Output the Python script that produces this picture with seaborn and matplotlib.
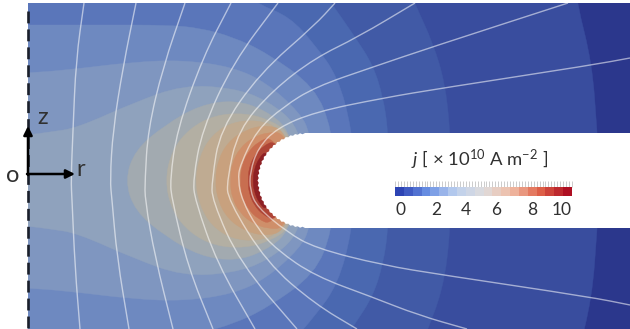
import numpy as np
import matplotlib
matplotlib.use("Agg")
import matplotlib.pyplot as plt
import seaborn as sns
from matplotlib.path import Path
from matplotlib.patches import PathPatch, Rectangle

# picture axis of symmetry of the field (z = 0)
z_mid = 180.5

# band edges of j, top half only, outermost first
edge_1 = [(-100, -60), (0, -60), (570, -60), (575, -20), (577, 3), (592, 63), (597, 130), (600, z_mid)]
edge_2 = [(-100, -60), (0, -60), (400, -60), (408, -15), (415, 4), (433, 43), (445, 83), (450, 130), (452, z_mid)]
edge_3 = [(-100, -60), (0, -60), (310, -60), (320, -12), (332, 4), (355, 37), (373, 65), (383, 97), (388, 130), (390, z_mid)]
edge_4 = [(-100, -60), (0, -60), (215, -60), (235, -12), (258, 4), (290, 17), (315, 45), (338, 77), (352, 130), (355, z_mid)]
edge_5 = [(-60, 25), (-20, 25), (100, 25), (167, 25), (200, 28), (233, 37), (267, 53), (315, 87), (332, 130), (335, z_mid)]
edge_6 = [(-60, 76), (-20, 75), (28, 73), (67, 70), (133, 62), (183, 60), (233, 67), (267, 83), (300, 113), (310, 133), (315, z_mid)]
edge_7 = [(-60, 140), (-20, 139), (28, 135), (50, 132), (77, 128), (133, 103), (183, 85), (233, 88), (267, 100), (300, 127), (305, z_mid)]
edge_8 = [(125, z_mid), (135, 150), (165, 125), (200, 105), (235, 100), (265, 110), (290, 130), (300, z_mid)]
edge_9 = [(165, z_mid), (172, 150), (190, 128), (215, 115), (245, 113), (270, 120), (290, 133), (300, z_mid)]
edge_10 = [(195, z_mid), (200, 155), (212, 135), (232, 122), (258, 120), (280, 128), (300, z_mid)]
edge_11 = [(215, z_mid), (218, 160), (228, 142), (245, 130), (265, 125), (285, 130), (300, z_mid)]
edge_12 = [(230, z_mid), (232, 163), (240, 148), (252, 138), (268, 132), (285, 133), (300, z_mid)]
edge_13 = [(240, z_mid), (242, 165), (248, 152), (258, 142), (272, 136), (300, z_mid)]
edge_14 = [(248, z_mid), (249, 168), (254, 156), (263, 146), (276, 140), (300, z_mid)]
edge_15 = [(253, z_mid), (254, 170), (259, 158), (267, 150), (300, z_mid)]
band_edges = [edge_1, edge_2, edge_3, edge_4, edge_5, edge_6, edge_7, edge_8,
              edge_9, edge_10, edge_11, edge_12, edge_13, edge_14, edge_15]

outer_color = "#2b378c"
band_colors = ["#394d9e", "#415aa6", "#4a68b0", "#5a76ba", "#6e89c0", "#7f96c0", "#8fa2bd",
               "#a2aab0", "#b3afa3", "#bfab92", "#c8a17e", "#cf8f6a", "#c86e50", "#ae4436", "#8e2024"]

# current streamlines
line_1 = [(84, 3), (76, 60), (73, 130), (71, 180), (72, 200), (75, 267), (80, 329)]
line_2 = [(136, 3), (123, 67), (113, 130), (110, 180), (112, 200), (117, 257), (129, 329)]
line_3 = [(185, 3), (163, 67), (148, 130), (145, 180), (145, 200), (155, 257), (173, 329)]
line_4 = [(231, 3), (203, 57), (177, 130), (170, 180), (172, 200), (188, 267), (213, 329)]
line_5 = [(278, 3), (233, 63), (202, 130), (193, 180), (195, 200), (217, 263), (255, 329)]
line_6 = [(335, 3), (315, 25), (260, 73), (220, 130), (212, 180), (212, 200), (240, 263), (297, 329)]
line_7 = [(415, 3), (358, 37), (315, 58), (273, 90), (238, 130), (227, 180), (228, 200), (267, 263), (315, 304), (357, 329)]
line_8 = [(568, 3), (432, 47), (373, 67), (315, 87), (283, 107), (257, 130), (240, 165), (238, 180), (242, 200), (257, 228), (277, 250), (315, 276), (372, 297), (418, 315), (467, 329)]
line_9 = [(630, 58), (592, 65), (443, 88), (383, 98), (315, 112), (277, 128), (258, 148), (250, 172), (250, 190), (257, 207), (287, 232), (315, 248), (382, 265), (443, 275), (590, 297), (630, 305)]
stream_lines = [line_1, line_2, line_3, line_4, line_5, line_6, line_7, line_8, line_9]

# colorbar
cbar_colors = ["#2d44b4", "#6a90e4", "#bccfee", "#dedcdc", "#f0bca6", "#e0644a", "#ae0f22"]
cbar_cells = 20
cbar_labels = ["0", "2", "4", "6", "8", "10"]
cbar_label_px = [400, 436, 466, 496, 532, 562]


def smooth_path(points, closed=False):
    # quadratic curves through segment midpoints
    pts = np.array(points, dtype=float)
    mids = (pts + np.roll(pts, -1, axis=0)) / 2
    verts, codes = [], []
    if closed:
        verts.append(mids[-1])
        codes.append(Path.MOVETO)
        for p, m in zip(pts, mids):
            verts += [p, m]
            codes += [Path.CURVE3, Path.CURVE3]
    else:
        verts += [pts[0], mids[0]]
        codes += [Path.MOVETO, Path.LINETO]
        for p, m in zip(pts[1:-1], mids[1:-1]):
            verts += [p, m]
            codes += [Path.CURVE3, Path.CURVE3]
        verts.append(pts[-1])
        codes.append(Path.LINETO)
    return Path(verts, codes)


sns.set_style("white")
plt.rcParams["font.family"] = ["Lato", "DejaVu Sans"]
plt.rcParams["mathtext.fontset"] = "custom"
plt.rcParams["mathtext.rm"] = "Lato"
plt.rcParams["mathtext.it"] = "Lato:italic"
text_color = "#303030"

fig = plt.figure(figsize=(6.30, 3.29), dpi=100)
ax = fig.add_axes([0, 0, 1, 1])
ax.set_xlim(0, 630)
ax.set_ylim(329, 0)
ax.set_axis_off()

# field region
frame = Rectangle((28, 3), 602, 326, facecolor=outer_color, edgecolor="none", zorder=1)
ax.add_patch(frame)

for edge, color in zip(band_edges, band_colors):
    bottom = [(x, 2 * z_mid - y) for x, y in edge[-2::-1] if y != z_mid]
    patch = PathPatch(smooth_path(edge + bottom, closed=True), facecolor=color, edgecolor=color, lw=0.3, zorder=2)
    ax.add_patch(patch)
    patch.set_clip_path(frame)

for line in stream_lines:
    patch = PathPatch(smooth_path(line), facecolor="none", edgecolor="white", lw=1.0, alpha=0.55, zorder=3)
    ax.add_patch(patch)
    patch.set_clip_path(frame)

# electrode slot with stepped mesh edge
tip_x, tip_r = 305, 47.5
angles = np.radians(np.arange(90, 270.1, 3))
radii = tip_r - 1.2 * (np.arange(len(angles)) % 2)
slot_x = tip_x + radii * np.cos(angles)
slot_y = z_mid - radii * np.sin(angles)
ax.fill(np.r_[slot_x, 640, 640], np.r_[slot_y, z_mid + tip_r, z_mid - tip_r], color="white", lw=0, zorder=4)

# axis of symmetry and r, z arrows
ax.plot([28, 28], [11, 329], color="#1a1f2b", lw=1.9, dashes=(4.5, 2.3), zorder=5)
ax.annotate("", xy=(28, 126), xytext=(28, 175), zorder=6,
            arrowprops=dict(arrowstyle="-|>", color="black", lw=1.8, mutation_scale=13, shrinkA=0, shrinkB=0))
ax.annotate("", xy=(75, 174), xytext=(27, 174), zorder=6,
            arrowprops=dict(arrowstyle="-|>", color="black", lw=1.8, mutation_scale=13, shrinkA=0, shrinkB=0))
ax.text(43, 118, "z", fontsize=17, color=text_color, ha="center", va="center")
ax.text(81, 170, "r", fontsize=17, color=text_color, ha="center", va="center")
ax.text(13, 176, "o", fontsize=17, color=text_color, ha="center", va="center")

ax.text(480, 160, r"$\mathit{j}$ [ × 10$^{10}$ A m$^{-2}$ ]", fontsize=13.3, color=text_color, ha="center", va="center", zorder=6)

# colorbar as a one-row heatmap
cax = fig.add_axes([395 / 630, 1 - 196 / 329, 177 / 630, 9 / 329], zorder=7)
cbar_values = np.arange(cbar_cells)[None, :]
sns.heatmap(cbar_values, ax=cax, cmap=sns.blend_palette(cbar_colors, n_colors=cbar_cells),
            cbar=False, xticklabels=False, yticklabels=False)
cax.set_xticks([(px - 395) / 177 * cbar_cells for px in cbar_label_px])
cax.set_xticklabels(cbar_labels, fontsize=12.5, color=text_color)
cax.tick_params(axis="x", which="major", length=0, pad=4)
cax.set_xticks(np.linspace(0, cbar_cells, 61), minor=True)
cax.tick_params(axis="x", which="minor", top=True, bottom=False, length=4, width=0.6, color="#c4c4c4")

fig.savefig("out.png", dpi=100)
